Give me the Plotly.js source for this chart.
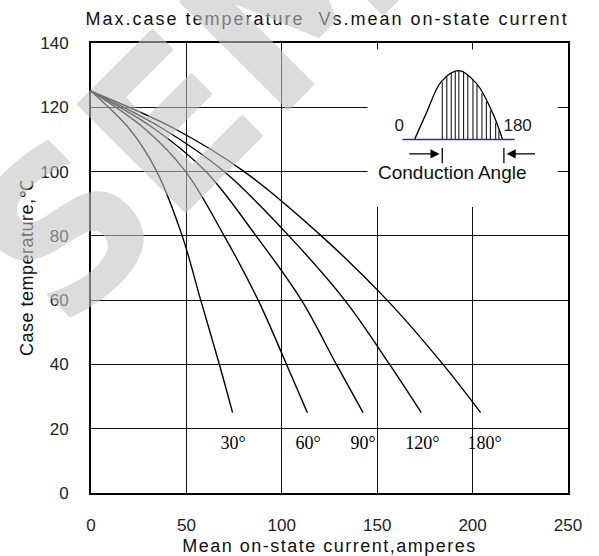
<!DOCTYPE html>
<html>
<head>
<meta charset="utf-8">
<script src="https://cdn.plot.ly/plotly-3.0.1.min.js"></script>
<style>
html, body { margin: 0; padding: 0; background: #fff; }
#chart { width: 599px; height: 556px; }
.gtitle { letter-spacing: 2px; }
.xtitle { letter-spacing: 1.5px; }
.ytitle { letter-spacing: 0.5px; }
</style>
</head>
<body>
<div id="chart"></div>
<script>
// ---- curve data ----
const current30  = [0, 20, 34.5, 47.8, 57.5, 67.3, 74.2];
const temp30     = [125, 113.4, 100, 80, 60, 40, 25];
const current60  = [0, 28, 49.6, 69.8, 87.6, 102.5, 113.4];
const temp60     = [125, 113.4, 100, 80, 60, 40, 25];
const current90  = [0, 33, 60.2, 86.5, 110.3, 128.6, 142.6];
const temp90     = [125, 113.4, 100, 80, 60, 40, 25];
const current120 = [0, 37.5, 69.8, 103.7, 133, 156.5, 173.1];
const temp120    = [125, 113.4, 100, 80, 60, 40, 25];
const current180 = [0, 43.6, 80.3, 120.7, 155.2, 184.5, 204.2];
const temp180    = [125, 113.4, 100, 80, 60, 40, 25];

const angleLabels = ['30°', '60°', '90°', '120°', '180°'];
const angleLabelX = [74.5, 113.8, 142.6, 173.7, 206.3];
const angleLabelY = [15, 15, 15, 15, 15];

const xTickVals = [0, 50, 100, 150, 200, 250];
const yTickVals = [0, 20, 40, 60, 80, 100, 120, 140];

// ---- inset (conduction angle sketch) ----
const humpX = [169.6, 175.7, 183.6, 192.7, 201.9, 210.6, 215.7];
const humpY = [110, 118.1, 128, 131.4, 127.5, 118.1, 110];
const hatchX = [184.1, 186.5, 188.8, 190.9, 192.8, 195.3, 197.5, 200.2, 202.3, 204.9, 207.2, 209.3, 212.1, 213.8];
const hatchTop = [127.9, 129.5, 130.7, 131.2, 131.4, 131.1, 130.2, 128.6, 126.9, 124.4, 121.7, 119.0, 115.2, 112.8];
const hatchBase = 110;
const baseLineX = [163.2, 222];
const baseLineY = [110, 110];
const insetLabels = ['0', '180'];
const insetLabelX = [161.6, 223.6];
const insetLabelY = [113.9, 113.9];
const insetBox = {x0: 145, x1: 244.6, y0: 89, y1: 138};
const barX = [184.1, 216.4];
const barY = [102.6, 107.3];
const arrowY = 105.5;
const arrowLeft = {tail: 166, head: 182.7};
const arrowRight = {tail: 233.5, head: 217.8};
const conductionText = {x: 189.5, y: 99.6, text: 'Conduction\u2009Angle'};

// ---- build traces ----
const curveLine = {color: '#000', width: 1.4, shape: 'spline', smoothing: 1};
function curve(x, y) {
  return {x: x, y: y, type: 'scatter', mode: 'lines', line: curveLine, hoverinfo: 'skip', showlegend: false};
}
const traces = [
  curve(current30, temp30),
  curve(current60, temp60),
  curve(current90, temp90),
  curve(current120, temp120),
  curve(current180, temp180),
  {x: angleLabelX, y: angleLabelY, text: angleLabels, type: 'scatter', mode: 'text',
   textfont: {family: 'Liberation Serif, Times New Roman, serif', size: 18, color: '#000'},
   textposition: 'middle center', cliponaxis: false, hoverinfo: 'skip', showlegend: false}
];

// inset: hump, hatching, base line, labels
traces.push({x: humpX, y: humpY, type: 'scatter', mode: 'lines',
  line: {color: '#000', width: 1.3, shape: 'spline'}, hoverinfo: 'skip', showlegend: false});
const hx = [], hy = [];
hatchX.forEach(function (v, i) { hx.push(v, v, null); hy.push(hatchBase, hatchTop[i], null); });
traces.push({x: hx, y: hy, type: 'scatter', mode: 'lines',
  line: {color: '#000', width: 1}, hoverinfo: 'skip', showlegend: false});
traces.push({x: baseLineX, y: baseLineY, type: 'scatter', mode: 'lines',
  line: {color: '#2a2ab4', width: 1.6}, hoverinfo: 'skip', showlegend: false});
traces.push({x: insetLabelX, y: insetLabelY, text: insetLabels, type: 'scatter', mode: 'text',
  textfont: {family: 'Liberation Sans, Arial, sans-serif', size: 17, color: '#222'},
  textposition: 'middle center', cliponaxis: false, hoverinfo: 'skip', showlegend: false});
const bx = [], by = [];
barX.forEach(function (v) { bx.push(v, v, null); by.push(barY[0], barY[1], null); });
traces.push({x: bx, y: by, type: 'scatter', mode: 'lines',
  line: {color: '#000', width: 1.3}, hoverinfo: 'skip', showlegend: false});

const axisFont = {family: 'Liberation Sans, Arial, sans-serif', size: 17, color: '#222'};
const titleFont = {family: 'Liberation Sans, Arial, sans-serif', size: 18, color: '#111'};

const layout = {
  width: 599, height: 556,
  margin: {l: 91, r: 31, t: 43, b: 63, pad: 0},
  paper_bgcolor: '#fff', plot_bgcolor: '#fff',
  showlegend: false,
  title: {text: 'Max.case temperature  Vs.mean on-state current', font: titleFont,
          x: 0.546, xanchor: 'center', y: 0.966, yanchor: 'middle', yref: 'container'},
  xaxis: {
    range: [0, 250], tickvals: xTickVals, ticktext: xTickVals.map(String),
    showgrid: true, gridcolor: '#111', gridwidth: 1.2, zeroline: false,
    showline: true, linecolor: '#000', linewidth: 2, mirror: true,
    ticks: '', tickfont: axisFont, ticklabelstandoff: 16, fixedrange: true,
    title: {text: 'Mean on-state current,amperes', font: titleFont, standoff: 6}
  },
  yaxis: {
    range: [0, 140], tickvals: yTickVals, ticktext: yTickVals.map(String),
    showgrid: true, gridcolor: '#111', gridwidth: 1.2, zeroline: false,
    showline: true, linecolor: '#000', linewidth: 2, mirror: true,
    ticks: '', tickfont: axisFont, ticklabelstandoff: 17, fixedrange: true,
    title: {text: 'Case temperature,℃', font: titleFont, standoff: 2}
  },
  shapes: [
    {type: 'rect', xref: 'x', yref: 'y', x0: insetBox.x0, x1: insetBox.x1, y0: insetBox.y0, y1: insetBox.y1,
     fillcolor: '#fff', line: {width: 0}, layer: 'between'}
  ],
  annotations: [
    {xref: 'x', yref: 'y', axref: 'x', ayref: 'y', x: arrowLeft.head, y: arrowY, ax: arrowLeft.tail, ay: arrowY,
     text: '', showarrow: true, arrowhead: 2, arrowsize: 1.3, arrowwidth: 1.4, arrowcolor: '#000', standoff: 0},
    {xref: 'x', yref: 'y', axref: 'x', ayref: 'y', x: arrowRight.head, y: arrowY, ax: arrowRight.tail, ay: arrowY,
     text: '', showarrow: true, arrowhead: 2, arrowsize: 1.3, arrowwidth: 1.4, arrowcolor: '#000', standoff: 0},
    {xref: 'x', yref: 'y', x: conductionText.x, y: conductionText.y, text: conductionText.text, showarrow: false,
     font: {family: 'Liberation Sans, Arial, sans-serif', size: 19, color: '#111'}, xanchor: 'center', yanchor: 'middle'},
    {xref: 'paper', yref: 'paper', x: 0.27, y: 0.928, text: 'SEMI', showarrow: false, textangle: -45,
     font: {family: 'DejaVu Sans, sans-serif', size: 212, weight: 'bold', color: 'rgba(195,195,195,0.58)'},
     xanchor: 'center', yanchor: 'middle'}
  ]
};

Plotly.newPlot('chart', traces, layout, {displayModeBar: false, staticPlot: true});
</script>
</body>
</html>
